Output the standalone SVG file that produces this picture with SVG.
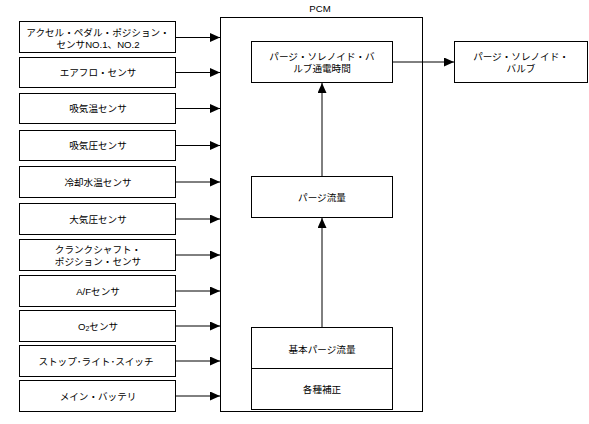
<svg xmlns="http://www.w3.org/2000/svg" width="589" height="424" viewBox="0 0 589 424">
<style>
rect{fill:#fff;stroke:#000;stroke-width:1}
text{font-family:"Liberation Sans","Noto Sans CJK JP",sans-serif;font-size:9.6px;fill:#000;text-anchor:middle;dominant-baseline:central}
.c line{stroke:#000;stroke-width:1}
</style>
<defs>
<marker id="ah" markerUnits="userSpaceOnUse" markerWidth="11" markerHeight="9" refX="10" refY="4.5" orient="auto">
<path d="M0,0 L10,4.5 L0,9 Z" fill="#000"/>
</marker>
</defs>
<rect x="0" y="0" width="589" height="424" style="stroke:none"/>
<g id="pcm"><rect x="220.5" y="17.5" width="202" height="394"/><text x="320" y="8">PCM</text></g>
<g id="n1"><rect x="19.5" y="21.5" width="156" height="31"/><text x="98" y="32">アクセル・ペダル・ポジション・</text><text x="98" y="44">センサNO.1、NO.2</text></g>
<g id="n2"><rect x="19.5" y="57.5" width="156" height="30"/><text x="98" y="72.5">エアフロ・センサ</text></g>
<g id="n3"><rect x="19.5" y="93.5" width="156" height="30"/><text x="98" y="108.5">吸気温センサ</text></g>
<g id="n4"><rect x="19.5" y="130.5" width="156" height="30"/><text x="98" y="145.5">吸気圧センサ</text></g>
<g id="n5"><rect x="19.5" y="166.5" width="156" height="31"/><text x="98" y="182">冷却水温センサ</text></g>
<g id="n6"><rect x="19.5" y="203.5" width="156" height="31"/><text x="98" y="219">大気圧センサ</text></g>
<g id="n7"><rect x="19.5" y="239.5" width="156" height="31"/><text x="98" y="249">クランクシャフト・</text><text x="98" y="261">ポジション・センサ</text></g>
<g id="n8"><rect x="19.5" y="275.5" width="156" height="31"/><text x="98" y="291">A/Fセンサ</text></g>
<g id="n9"><rect x="19.5" y="310.5" width="156" height="31"/><text x="98" y="326">O<tspan font-size="7" dy="2">2</tspan><tspan dy="-2">センサ</tspan></text></g>
<g id="n10"><rect x="19.5" y="345.5" width="156" height="31"/><text x="96" y="361">ストップ･ライト･スイッチ</text></g>
<g id="n11"><rect x="19.5" y="380.5" width="156" height="31"/><text x="98" y="396">メイン・バッテリ</text></g>
<g id="p1"><rect x="251.5" y="41.5" width="141" height="41"/><text x="322" y="56">パージ・ソレノイド・バ</text><text x="322" y="68">ルブ通電時間</text></g>
<g id="p2"><rect x="251.5" y="176.5" width="141" height="41"/><text x="322" y="197">パージ流量</text></g>
<g id="p3"><rect x="251.5" y="327.5" width="141" height="82"/><line x1="251.5" y1="368.5" x2="392.5" y2="368.5" stroke="#000"/><text x="322" y="349">基本パージ流量</text><text x="322" y="389">各種補正</text></g>
<g id="valve"><rect x="454.5" y="41.5" width="133" height="41"/><text x="521" y="56">パージ・ソレノイド・</text><text x="521" y="68">バルブ</text></g>
<g class="c" id="connectors">
<line x1="176" y1="37.5" x2="220" y2="37.5" marker-end="url(#ah)"/>
<line x1="176" y1="72.5" x2="220" y2="72.5" marker-end="url(#ah)"/>
<line x1="176" y1="108.5" x2="220" y2="108.5" marker-end="url(#ah)"/>
<line x1="176" y1="145.5" x2="220" y2="145.5" marker-end="url(#ah)"/>
<line x1="176" y1="182" x2="220" y2="182" marker-end="url(#ah)"/>
<line x1="176" y1="219" x2="220" y2="219" marker-end="url(#ah)"/>
<line x1="176" y1="255" x2="220" y2="255" marker-end="url(#ah)"/>
<line x1="176" y1="291" x2="220" y2="291" marker-end="url(#ah)"/>
<line x1="176" y1="326" x2="220" y2="326" marker-end="url(#ah)"/>
<line x1="176" y1="361" x2="220" y2="361" marker-end="url(#ah)"/>
<line x1="176" y1="396" x2="220" y2="396" marker-end="url(#ah)"/>
<line x1="393" y1="62" x2="454" y2="62" marker-end="url(#ah)"/>
<line x1="322" y1="176" x2="322" y2="83" marker-end="url(#ah)"/>
<line x1="322" y1="327" x2="322" y2="218" marker-end="url(#ah)"/>
</g>
</svg>
